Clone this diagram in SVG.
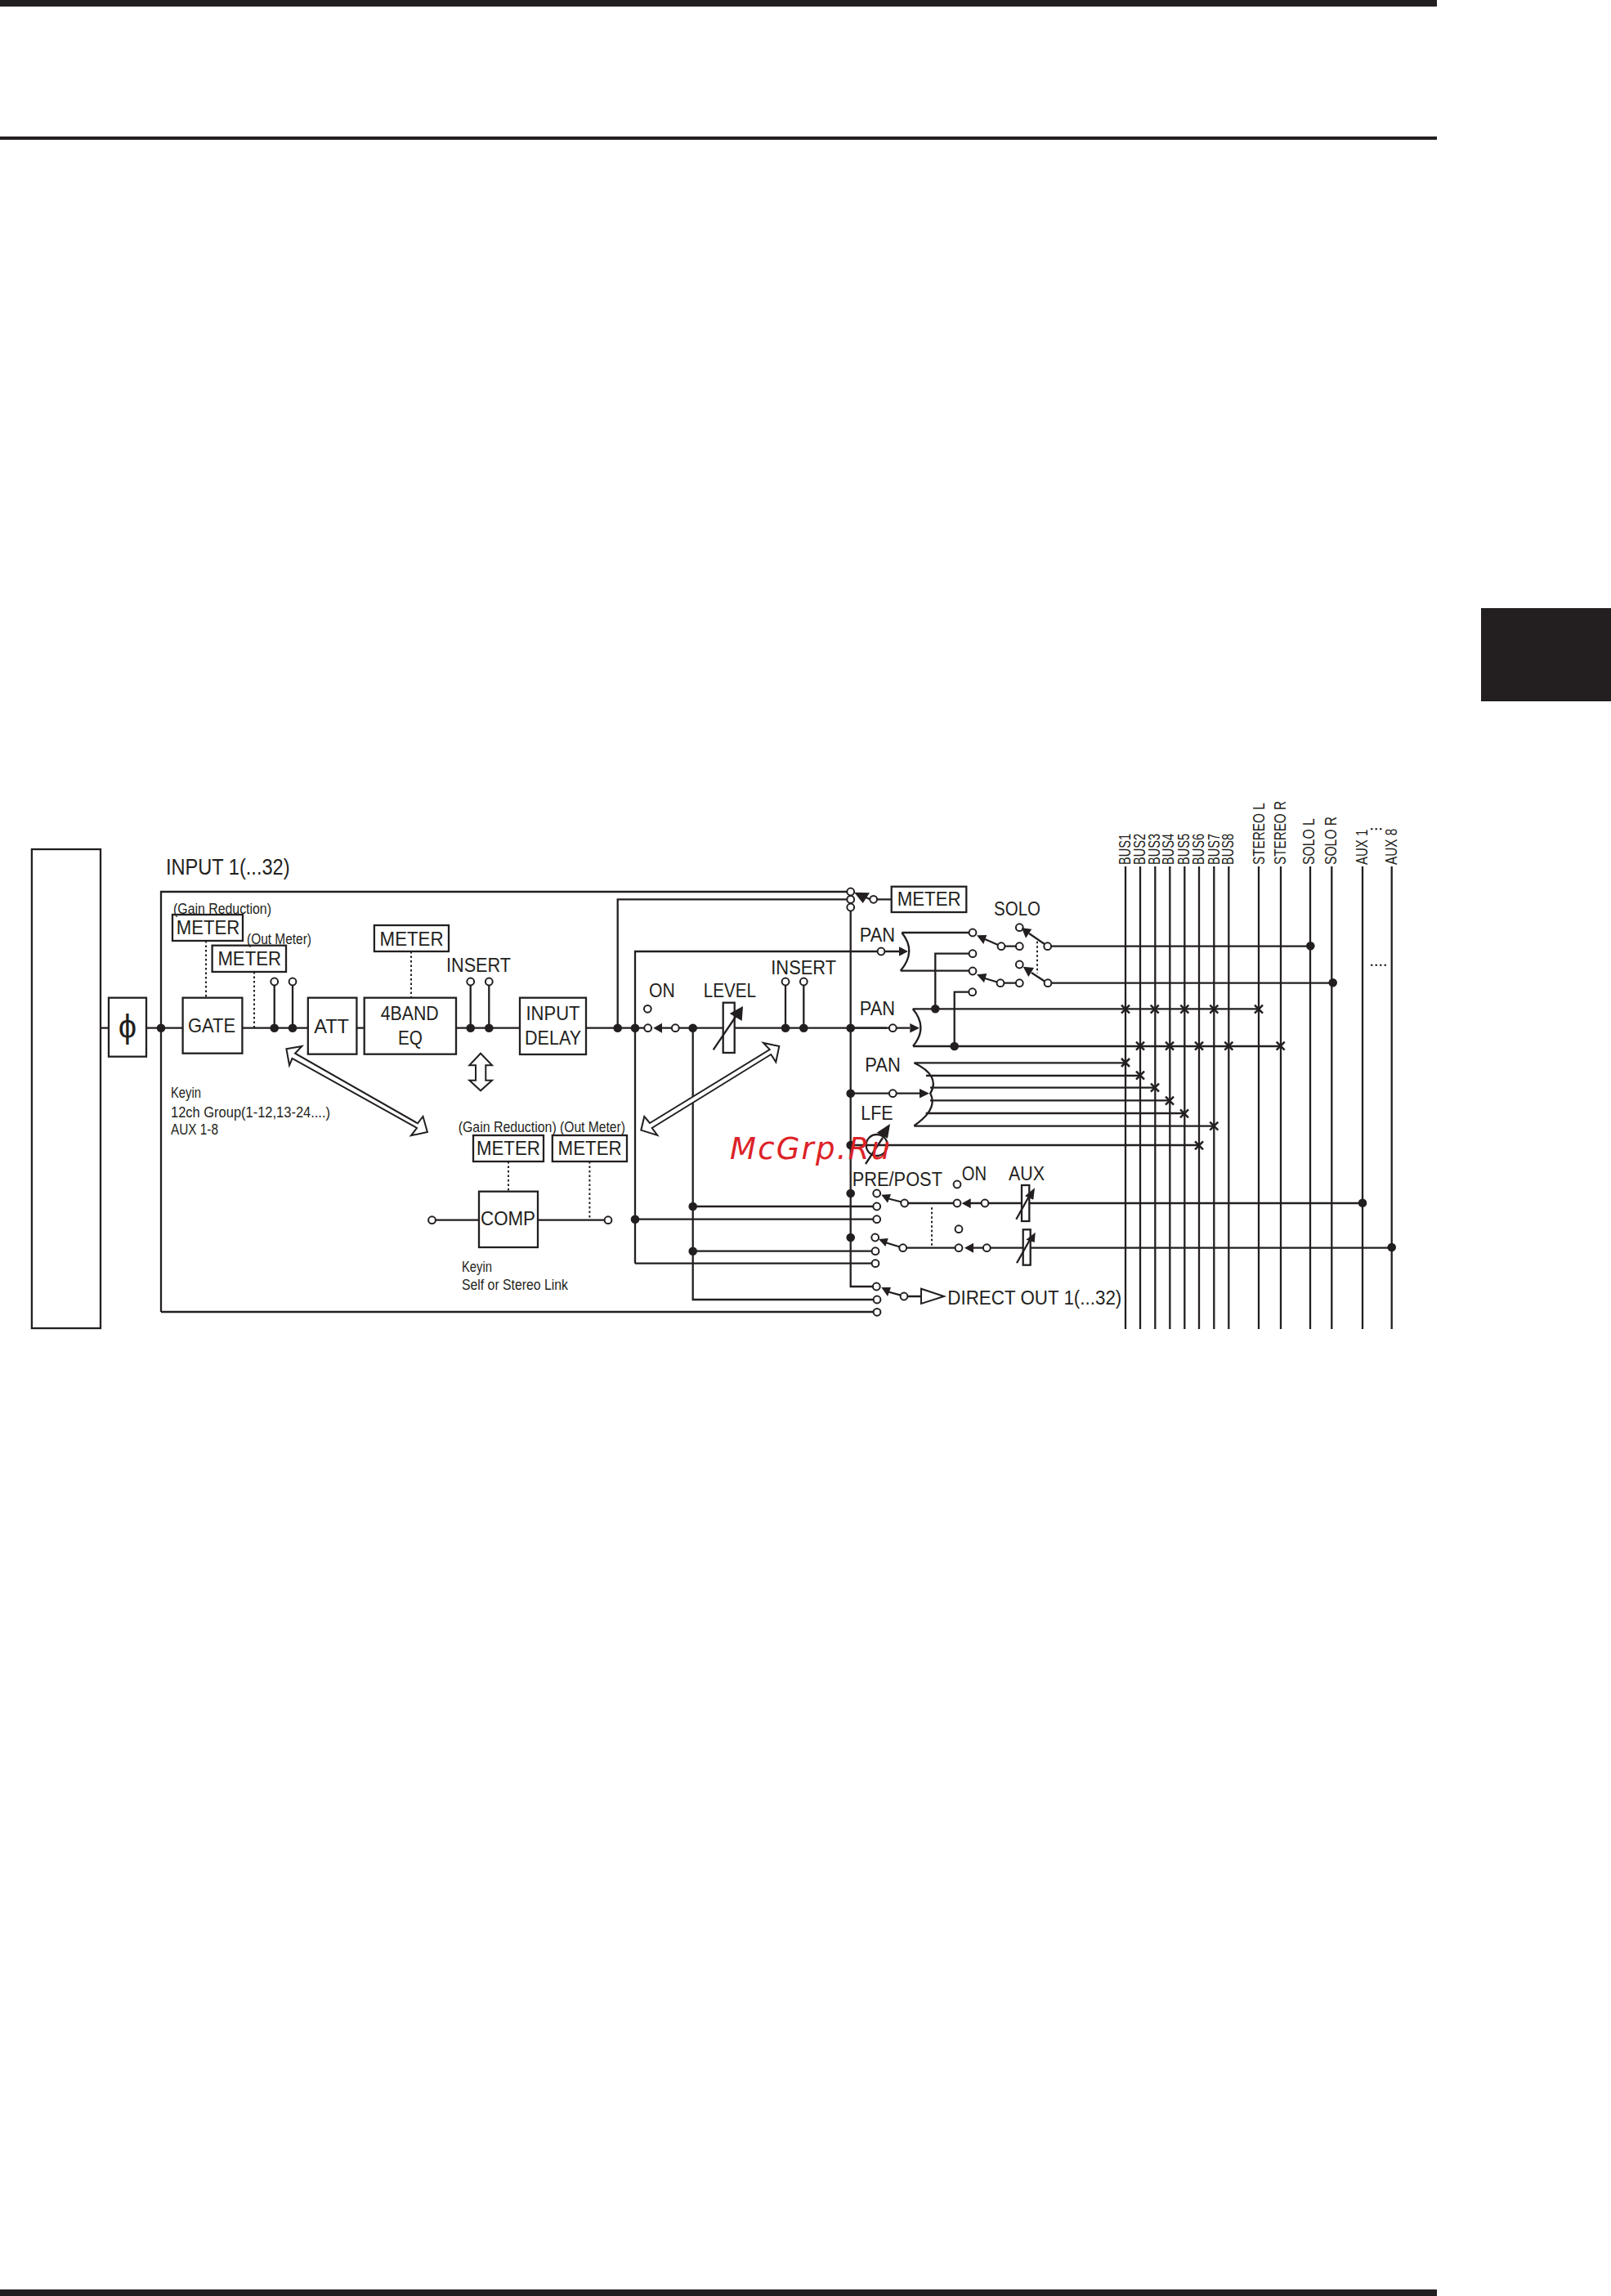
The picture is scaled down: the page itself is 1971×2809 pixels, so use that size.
<svg xmlns="http://www.w3.org/2000/svg" xmlns:xlink="http://www.w3.org/1999/xlink" width="1971" height="2809" viewBox="0 0 1971 2809">
<style>
text{font-family:"Liberation Sans",Arial,sans-serif;fill:#231f20}
.l{fill:none;stroke:#231f20;stroke-width:2.3}
.d{fill:none;stroke:#231f20;stroke-width:2;stroke-dasharray:2.5 3}
.b{fill:#fff;stroke:#231f20;stroke-width:2.3}
.w{fill:#fff;stroke:#231f20;stroke-width:2}
.k{fill:#231f20;stroke:none}
.o{fill:#fff;stroke:#231f20;stroke-width:2}
.m{font-size:24.6px}
.s{font-size:17.5px}
.r{font-size:19.5px}
</style>
<defs>
<circle id="dot" r="5.3" class="k"/>
<circle id="open" r="4.4" class="o"/>
<path id="x" d="M-5-5L5 5M-5 5L5-5" fill="none" stroke="#231f20" stroke-width="2.5"/>
</defs>
<rect width="1971" height="2809" fill="#fff"/>
<g id="page">
<rect x="0" y="0" width="1758" height="8" class="k"/>
<rect x="0" y="167" width="1758" height="4" class="k"/>
<rect x="0" y="2801" width="1758" height="8" class="k"/>
<rect x="1812" y="744" width="159" height="114" class="k"/>
</g>
<g id="connectors">
<path class="l" d="M1377 1060V1626M1395 1060V1626M1413.3 1060V1626M1431.3 1060V1626M1449.3 1060V1626M1467 1060V1626M1485.3 1060V1626M1503.3 1060V1626M1540 1060V1626M1567 1060V1626M1603 1060V1626M1629.3 1060V1626M1667 1060V1626M1702.7 1060V1626"/>
<path class="d" d="M1677 1014.3H1692M1677 1180.7H1697"/>
<path class="l" d="M123 1257.7H133M179 1257.7H223.6M296.4 1257.7H376.8M436.4 1257.7H445.7M558 1257.7H636M717 1257.7H788M805 1257.7H822M830 1257.7H1085"/>
<path class="l" d="M197 1605V1091H1036M197 1605H1068.6"/>
<path class="l" d="M755.7 1257.7V1100.3H1036"/>
<path class="l" d="M777 1545.7V1164H1100M777 1545.7H1067M777 1491.7H1068.6"/>
<path class="l" d="M847.7 1257.7V1590H1068.6M847.7 1476H1068.6M847.7 1530.7H1067"/>
<path class="l" d="M1040.7 1114V1574H1068"/>
<path class="l" d="M335.7 1257.7V1205M358 1257.7V1205M575.7 1257.7V1205M598.3 1257.7V1205M961 1257.7V1205M983.3 1257.7V1205"/>
<path class="d" d="M252 1151V1220M311 1189V1257M503 1164V1220M622 1421V1457M721.4 1421V1492M1269 1151.7V1190.7M1140 1477.3V1524"/>
<path class="l" d="M532.5 1492.7H586M658 1492.7H740"/>
<path class="l" d="M1073 1100.3H1090.7M1055 1096L1064.5 1100.3"/>
<path class="l" d="M1103.3 1141H1185.7M1101.7 1187.7H1185.7M1103.3 1141Q1122 1164 1101.7 1187.7"/>
<path class="l" d="M1144.3 1234.3V1166.7H1185.7M1167.7 1280V1213.7H1185.3"/>
<path class="l" d="M1116.7 1234.3H1540M1117 1280H1566.7M1116.7 1234.3Q1136 1257 1117 1280"/>
<path class="l" d="M1040.7 1257.7H1113M1040.7 1337.7H1125"/>
<path class="l" d="M1118.3 1300.3Q1151 1316 1138.3 1337.7Q1148 1357 1118.3 1377.3M1118.3 1300.3H1377M1133 1316H1395M1138 1330.7H1413M1138 1346.3H1431M1132.7 1362H1449M1118.3 1377.7H1485.3"/>
<path class="l" d="M1205 1149L1221 1156M1229 1157.7H1243M1259 1142L1278 1155M1286 1157.7H1603M1205 1197L1220 1201.5M1228 1202.7H1243M1262 1190L1278 1200.5M1286 1202.7H1630.7"/>
<path class="l" d="M1040.7 1401H1467M1059 1424L1080 1392"/>
<path class="l" d="M1085 1466L1103 1470.5M1110.7 1472H1167M1185 1472H1200M1209 1472H1667M1083 1520L1101 1525.5M1108.7 1526.7H1169M1188 1526.7H1203M1211 1526.7H1702.7"/>
<path class="l" d="M1085 1580L1102 1584.7M1110 1586H1127"/>
</g>
<g id="crosses">
<use xlink:href="#x" x="1377" y="1234.7"/><use xlink:href="#x" x="1412.7" y="1234.7"/><use xlink:href="#x" x="1449.3" y="1234.7"/><use xlink:href="#x" x="1485.3" y="1234.7"/><use xlink:href="#x" x="1540" y="1234.7"/>
<use xlink:href="#x" x="1395" y="1279.7"/><use xlink:href="#x" x="1431" y="1279.7"/><use xlink:href="#x" x="1467" y="1279.7"/><use xlink:href="#x" x="1503.3" y="1279.7"/><use xlink:href="#x" x="1566.7" y="1279.7"/>
<use xlink:href="#x" x="1377" y="1300"/><use xlink:href="#x" x="1395" y="1315.7"/><use xlink:href="#x" x="1413" y="1330.7"/><use xlink:href="#x" x="1431" y="1346.7"/><use xlink:href="#x" x="1449" y="1362.3"/><use xlink:href="#x" x="1485.3" y="1377.7"/><use xlink:href="#x" x="1467" y="1401.3"/>
</g>
<g id="dots">
<use xlink:href="#dot" x="197" y="1257.7"/><use xlink:href="#dot" x="335.7" y="1257.7"/><use xlink:href="#dot" x="358" y="1257.7"/><use xlink:href="#dot" x="575.7" y="1257.7"/><use xlink:href="#dot" x="598.3" y="1257.7"/><use xlink:href="#dot" x="755.7" y="1257.7"/><use xlink:href="#dot" x="777" y="1257.7"/><use xlink:href="#dot" x="847.7" y="1257.7"/><use xlink:href="#dot" x="961" y="1257.7"/><use xlink:href="#dot" x="983.3" y="1257.7"/><use xlink:href="#dot" x="1040.7" y="1257.7"/>
<use xlink:href="#dot" x="1040.7" y="1337.7"/><use xlink:href="#dot" x="1040.7" y="1401"/><use xlink:href="#dot" x="1040.7" y="1460"/><use xlink:href="#dot" x="1040.7" y="1514"/>
<use xlink:href="#dot" x="777" y="1491.7"/><use xlink:href="#dot" x="847.7" y="1476"/><use xlink:href="#dot" x="847.7" y="1530.7"/>
<use xlink:href="#dot" x="1144.3" y="1234.3"/><use xlink:href="#dot" x="1167.7" y="1280"/>
<use xlink:href="#dot" x="1603.3" y="1157.3"/><use xlink:href="#dot" x="1630.7" y="1202.3"/><use xlink:href="#dot" x="1667" y="1471.7"/><use xlink:href="#dot" x="1702.7" y="1526"/>
</g>
<g id="terminals">
<use xlink:href="#open" x="335.7" y="1201"/><use xlink:href="#open" x="358" y="1201"/><use xlink:href="#open" x="575.7" y="1201"/><use xlink:href="#open" x="598.3" y="1201"/><use xlink:href="#open" x="961" y="1201"/><use xlink:href="#open" x="983.3" y="1201"/>
<use xlink:href="#open" x="528.5" y="1492.7"/><use xlink:href="#open" x="744" y="1492.7"/>
<use xlink:href="#open" x="1040.7" y="1091"/><use xlink:href="#open" x="1040.7" y="1100.4"/><use xlink:href="#open" x="1040.7" y="1110"/><use xlink:href="#open" x="1068.7" y="1100.3"/>
<use xlink:href="#open" x="792.3" y="1234.3"/><use xlink:href="#open" x="792.7" y="1257.7"/><use xlink:href="#open" x="826.3" y="1257.7"/>
<use xlink:href="#open" x="1078" y="1164"/><use xlink:href="#open" x="1092.3" y="1257.7"/><use xlink:href="#open" x="1092.3" y="1337.7"/>
<use xlink:href="#open" x="1190" y="1141"/><use xlink:href="#open" x="1190" y="1166.7"/><use xlink:href="#open" x="1190" y="1188"/><use xlink:href="#open" x="1189.7" y="1213.7"/>
<use xlink:href="#open" x="1225" y="1157.7"/><use xlink:href="#open" x="1247.3" y="1157.7"/><use xlink:href="#open" x="1247.3" y="1134.7"/><use xlink:href="#open" x="1281.7" y="1157.7"/>
<use xlink:href="#open" x="1224" y="1202.7"/><use xlink:href="#open" x="1247.3" y="1202.7"/><use xlink:href="#open" x="1247.3" y="1180"/><use xlink:href="#open" x="1282" y="1202.7"/>
<use xlink:href="#open" x="1072.7" y="1460"/><use xlink:href="#open" x="1072.7" y="1476"/><use xlink:href="#open" x="1072.7" y="1491.7"/><use xlink:href="#open" x="1106.7" y="1472"/><use xlink:href="#open" x="1171" y="1472"/><use xlink:href="#open" x="1171" y="1449"/><use xlink:href="#open" x="1205" y="1472"/>
<use xlink:href="#open" x="1070.7" y="1514"/><use xlink:href="#open" x="1071" y="1530.7"/><use xlink:href="#open" x="1071" y="1545.7"/><use xlink:href="#open" x="1104.7" y="1526.7"/><use xlink:href="#open" x="1173" y="1526.7"/><use xlink:href="#open" x="1173" y="1503.7"/><use xlink:href="#open" x="1207.3" y="1526.7"/>
<use xlink:href="#open" x="1072.3" y="1574"/><use xlink:href="#open" x="1073" y="1590"/><use xlink:href="#open" x="1073" y="1605.3"/><use xlink:href="#open" x="1106" y="1586"/>
</g>
<g id="arrowheads">
<polygon class="k" points="1045,1091.7 1064,1092.3 1055.7,1105"/>
<polygon class="k" points="1111,1164 1100,1158.3 1100,1169.7"/>
<polygon class="k" points="1125,1257.7 1113.3,1252 1113.3,1263.4"/>
<polygon class="k" points="1137,1337.7 1125,1332 1125,1343.4"/>
<polygon class="k" points="799.3,1257.7 810,1251.7 810,1263.7"/>
<polygon class="k" points="1195,1144.3 1207.3,1144 1203.3,1155"/>
<polygon class="k" points="1250,1135.3 1262.3,1136.7 1255,1147.7"/>
<polygon class="k" points="1195,1192.3 1207.3,1191 1204,1202.3"/>
<polygon class="k" points="1251.7,1182.7 1265,1184 1258.3,1195"/>
<polygon class="k" points="1078.3,1461.7 1090,1461 1086,1471.7"/>
<polygon class="k" points="1075,1516 1086.7,1515 1083.3,1525"/>
<polygon class="k" points="1078.3,1575 1090,1575 1086,1586"/>
<polygon class="k" points="1176.7,1472.3 1187.7,1466.3 1187.7,1478.3"/>
<polygon class="k" points="1180,1526.7 1191,1520.7 1191,1532.7"/>
</g>
<g id="node-input-strip"><rect class="b" x="38.9" y="1039" width="84.1" height="586"/></g>
<g id="node-phase"><rect class="b" x="133" y="1220.7" width="46" height="72"/><text x="156" y="1270" text-anchor="middle" style="font-family:'Liberation Sans',sans-serif;font-size:40px">ϕ</text></g>
<g id="node-gate"><rect class="b" x="223.6" y="1220.7" width="72.8" height="68"/><text class="m" x="230" y="1263.3" textLength="58" lengthAdjust="spacingAndGlyphs">GATE</text></g>
<g id="node-att"><rect class="b" x="376.8" y="1220.7" width="59.6" height="69"/><text class="m" x="384.3" y="1264.3" textLength="42.7" lengthAdjust="spacingAndGlyphs">ATT</text></g>
<g id="node-eq"><rect class="b" x="445.7" y="1220.7" width="112.3" height="69"/><text class="m" x="465.7" y="1247.7" textLength="71" lengthAdjust="spacingAndGlyphs">4BAND</text><text class="m" x="487" y="1278.3" textLength="30" lengthAdjust="spacingAndGlyphs">EQ</text></g>
<g id="node-delay"><rect class="b" x="636" y="1220.7" width="81" height="69.3"/><text class="m" x="643.5" y="1248" textLength="66" lengthAdjust="spacingAndGlyphs">INPUT</text><text class="m" x="642" y="1278" textLength="69" lengthAdjust="spacingAndGlyphs">DELAY</text></g>
<g id="node-comp"><rect class="b" x="586" y="1457.7" width="72" height="68.3"/><text class="m" x="588" y="1499.3" textLength="67" lengthAdjust="spacingAndGlyphs">COMP</text></g>
<g id="node-meter-gr"><rect class="b" x="211" y="1119" width="86" height="32"/><text class="m" x="215.7" y="1142.7" textLength="77.5" lengthAdjust="spacingAndGlyphs">METER</text></g>
<g id="node-meter-out"><rect class="b" x="259.6" y="1156.7" width="90.4" height="32.3"/><text class="m" x="266.4" y="1181.3" textLength="77.6" lengthAdjust="spacingAndGlyphs">METER</text></g>
<g id="node-meter-eq"><rect class="b" x="457.9" y="1132" width="91.1" height="32"/><text class="m" x="464.6" y="1156.7" textLength="77.9" lengthAdjust="spacingAndGlyphs">METER</text></g>
<g id="node-meter-comp-gr"><rect class="b" x="579" y="1389" width="86" height="32"/><text class="m" x="583" y="1412.7" textLength="77.8" lengthAdjust="spacingAndGlyphs">METER</text></g>
<g id="node-meter-comp-out"><rect class="b" x="675.8" y="1389" width="91.2" height="32"/><text class="m" x="682.6" y="1412.7" textLength="78.1" lengthAdjust="spacingAndGlyphs">METER</text></g>
<g id="node-meter-main"><rect class="b" x="1090.7" y="1084.7" width="91.6" height="31.3"/><text class="m" x="1097.7" y="1108.3" textLength="78" lengthAdjust="spacingAndGlyphs">METER</text></g>
<g id="node-level"><rect class="b" x="884.7" y="1226.7" width="14" height="61.3"/><path class="l" d="M872.7 1284.3L902 1241"/><polygon class="k" points="909,1231 892.7,1240 907.7,1249"/></g>
<g id="node-aux1"><rect class="b" x="1250" y="1450" width="9.3" height="44"/><path class="l" d="M1243.3 1491.7L1261 1460"/><polygon class="k" points="1266,1453.3 1254,1463.3 1264.3,1467.7"/></g>
<g id="node-aux2"><rect class="b" x="1251.7" y="1504.3" width="9" height="43.4"/><path class="l" d="M1244 1545.3L1261 1515"/><polygon class="k" points="1266.7,1507.7 1255.3,1516.7 1265.7,1520"/></g>
<g id="node-lfe"><circle class="l" cx="1072.7" cy="1401" r="13"/><polygon class="k" points="1089,1375 1072.7,1385.7 1086,1392.7"/></g>
<g id="node-direct"><polygon class="w" points="1127,1576.7 1127,1595 1155,1586"/></g>
<g id="arrows">
<polygon class="w" points="350.4,1283.3 369.3,1280 361,1288.7 511,1374.3 517.5,1366 522.9,1385 502.9,1389.3 510,1380 357.5,1295 354,1303.3"/>
<polygon class="w" points="953.3,1280 934,1276 941.7,1284 795,1374 788.3,1366 784.3,1382.7 804.3,1389 797.7,1380 943.3,1290 949.3,1299.3"/>
<polygon class="w" points="588,1288.7 602,1303.3 594.3,1303.3 594.3,1321.7 602,1321.7 588,1334.3 574.3,1321.7 582,1321.7 582,1303.3 574.3,1303.3"/>
</g>
<g id="labels">
<text x="202.9" y="1070" font-size="27.6" textLength="151.7" lengthAdjust="spacingAndGlyphs">INPUT 1(...32)</text>
<text class="s" x="212" y="1118" textLength="120" lengthAdjust="spacingAndGlyphs">(Gain Reduction)</text>
<text class="s" x="302" y="1155" textLength="79" lengthAdjust="spacingAndGlyphs">(Out Meter)</text>
<text class="s" x="209" y="1342.7" textLength="37" lengthAdjust="spacingAndGlyphs">Keyin</text>
<text class="s" x="209" y="1366.7" textLength="195" lengthAdjust="spacingAndGlyphs">12ch Group(1-12,13-24....)</text>
<text class="s" x="209" y="1388" textLength="58" lengthAdjust="spacingAndGlyphs">AUX 1-8</text>
<text class="s" x="560.7" y="1385" textLength="120" lengthAdjust="spacingAndGlyphs">(Gain Reduction)</text>
<text class="s" x="685" y="1385" textLength="80" lengthAdjust="spacingAndGlyphs">(Out Meter)</text>
<text class="s" x="565" y="1556" textLength="37" lengthAdjust="spacingAndGlyphs">Keyin</text>
<text class="s" x="565" y="1577.7" textLength="130" lengthAdjust="spacingAndGlyphs">Self or Stereo Link</text>
<text class="m" x="546" y="1189" textLength="79" lengthAdjust="spacingAndGlyphs">INSERT</text>
<text class="m" x="943.3" y="1192.3" textLength="79.7" lengthAdjust="spacingAndGlyphs">INSERT</text>
<text class="m" x="794" y="1220" textLength="31.7" lengthAdjust="spacingAndGlyphs">ON</text>
<text class="m" x="860.7" y="1220" textLength="64.3" lengthAdjust="spacingAndGlyphs">LEVEL</text>
<text class="m" x="1216" y="1120" textLength="57" lengthAdjust="spacingAndGlyphs">SOLO</text>
<text class="m" x="1051.7" y="1151.7" textLength="43.3" lengthAdjust="spacingAndGlyphs">PAN</text>
<text class="m" x="1051.7" y="1241.7" textLength="43.3" lengthAdjust="spacingAndGlyphs">PAN</text>
<text class="m" x="1058.3" y="1310.7" textLength="43.4" lengthAdjust="spacingAndGlyphs">PAN</text>
<text class="m" x="1053.3" y="1370" textLength="39.4" lengthAdjust="spacingAndGlyphs">LFE</text>
<text class="m" x="1042.7" y="1450.7" textLength="110.3" lengthAdjust="spacingAndGlyphs">PRE/POST</text>
<text class="m" x="1176.7" y="1444.3" textLength="30.3" lengthAdjust="spacingAndGlyphs">ON</text>
<text class="m" x="1234" y="1444.3" textLength="44" lengthAdjust="spacingAndGlyphs">AUX</text>
<text class="m" x="1159.3" y="1595.7" textLength="213" lengthAdjust="spacingAndGlyphs">DIRECT OUT 1(...32)</text>
<text class="r" transform="translate(1383.3 1058) rotate(-90)" textLength="38" lengthAdjust="spacingAndGlyphs">BUS1</text>
<text class="r" transform="translate(1401.3 1058) rotate(-90)" textLength="38" lengthAdjust="spacingAndGlyphs">BUS2</text>
<text class="r" transform="translate(1419 1058) rotate(-90)" textLength="38" lengthAdjust="spacingAndGlyphs">BUS3</text>
<text class="r" transform="translate(1436.3 1058) rotate(-90)" textLength="38" lengthAdjust="spacingAndGlyphs">BUS4</text>
<text class="r" transform="translate(1455 1058) rotate(-90)" textLength="38" lengthAdjust="spacingAndGlyphs">BUS5</text>
<text class="r" transform="translate(1473.3 1058) rotate(-90)" textLength="38" lengthAdjust="spacingAndGlyphs">BUS6</text>
<text class="r" transform="translate(1491.7 1058) rotate(-90)" textLength="38" lengthAdjust="spacingAndGlyphs">BUS7</text>
<text class="r" transform="translate(1509.3 1058) rotate(-90)" textLength="38" lengthAdjust="spacingAndGlyphs">BUS8</text>
<text class="r" transform="translate(1546.7 1058) rotate(-90)" textLength="75.7" lengthAdjust="spacingAndGlyphs">STEREO L</text>
<text class="r" transform="translate(1573.3 1058) rotate(-90)" textLength="78" lengthAdjust="spacingAndGlyphs">STEREO R</text>
<text class="r" transform="translate(1608.3 1058) rotate(-90)" textLength="56.7" lengthAdjust="spacingAndGlyphs">SOLO L</text>
<text class="r" transform="translate(1635 1058) rotate(-90)" textLength="59" lengthAdjust="spacingAndGlyphs">SOLO R</text>
<text class="r" transform="translate(1673.3 1058) rotate(-90)" textLength="43.3" lengthAdjust="spacingAndGlyphs">AUX 1</text>
<text class="r" transform="translate(1709.3 1058) rotate(-90)" textLength="44.3" lengthAdjust="spacingAndGlyphs">AUX 8</text>
</g>
<g id="watermark"><text x="893" y="1418" textLength="196" lengthAdjust="spacing" style="font-family:'DejaVu Sans',sans-serif;font-style:italic;font-size:37px;fill:#dd2227">McGrp.Ru</text></g>
</svg>
